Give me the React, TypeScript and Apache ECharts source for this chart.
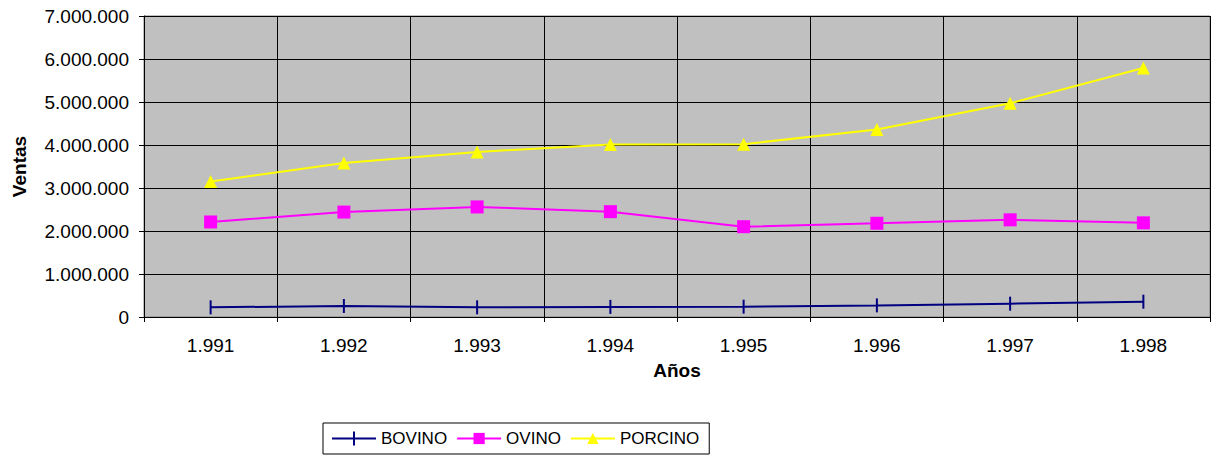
import React, { useEffect, useRef } from "react";
import * as echarts from "echarts";

const years = ["1.991", "1.992", "1.993", "1.994", "1.995", "1.996", "1.997", "1.998"];
const bovino = [225000, 256000, 225000, 235000, 240000, 270000, 310000, 356000];
const ovino = [2210000, 2440000, 2560000, 2450000, 2100000, 2180000, 2260000, 2190000];
const porcino = [3150000, 3580000, 3840000, 4010000, 4020000, 4360000, 4970000, 5790000];

const fmt = (v: number) => String(v).replace(/\B(?=(\d{3})+(?!\d))/g, ".");

export default function App() {
  const ref = useRef<HTMLDivElement>(null);
  useEffect(() => {
    const chart = echarts.init(ref.current!, null, { renderer: "svg" });
    const font = "Arial, 'Liberation Sans', sans-serif";
    chart.setOption({
      animation: false,
      backgroundColor: "#ffffff",
      textStyle: { fontFamily: font },
      grid: {
        left: 144,
        top: 16,
        right: 4,
        bottom: 138,
        backgroundColor: "#C0C0C0",
        show: true,
        borderColor: "#808080",
        borderWidth: 1,
        outerBoundsMode: "none",
        containLabel: false,
      },
      legend: {
        top: 423,
        left: 323,
        orient: "horizontal",
        itemWidth: 44,
        itemHeight: 14,
        itemGap: 9,
        padding: [7, 10, 7, 9],
        borderColor: "#000000",
        borderWidth: 1,
        textStyle: { fontSize: 17, color: "#000", fontFamily: font },
        data: [
          { name: "BOVINO", icon: "path://M0,6 L44,6 L44,8 L0,8 Z M21,0 L23,0 L23,14 L21,14 Z" },
          "OVINO",
          "PORCINO",
        ],
      },
      xAxis: {
        type: "category",
        data: years,
        boundaryGap: true,
        name: "Años",
        nameLocation: "middle",
        nameGap: 44,
        nameTextStyle: { fontSize: 19, fontWeight: "bold", color: "#000" },
        axisLine: { lineStyle: { color: "#000", width: 1 } },
        axisTick: { show: true, inside: false, length: 5, lineStyle: { color: "#000" } },
        axisLabel: { fontSize: 19, color: "#000", margin: 19 },
        splitLine: { show: true, lineStyle: { color: "#000", width: 1 } },
      },
      yAxis: {
        type: "value",
        min: 0,
        max: 7000000,
        interval: 1000000,
        name: "Ventas",
        nameLocation: "middle",
        nameGap: 115,
        nameRotate: 90,
        nameTextStyle: { fontSize: 19, fontWeight: "bold", color: "#000" },
        axisLine: { show: true, lineStyle: { color: "#000", width: 1 } },
        axisTick: { show: true, length: 5, lineStyle: { color: "#000" } },
        axisLabel: { fontSize: 19, color: "#000", margin: 15, formatter: (v: number) => fmt(v) },
        splitLine: { show: true, lineStyle: { color: "#000", width: 1 } },
      },
      series: [
        {
          name: "BOVINO",
          type: "line",
          data: bovino,
          color: "#000080",
          lineStyle: { color: "#000080", width: 2 },
          itemStyle: { color: "#000080" },
          symbol: "rect",
          symbolSize: [2, 14],
        },
        {
          name: "OVINO",
          type: "line",
          data: ovino,
          color: "#FF00FF",
          lineStyle: { color: "#FF00FF", width: 2 },
          itemStyle: { color: "#FF00FF" },
          symbol: "rect",
          symbolSize: 13,
        },
        {
          name: "PORCINO",
          type: "line",
          data: porcino,
          color: "#FFFF00",
          lineStyle: { color: "#FFFF00", width: 2 },
          itemStyle: { color: "#FFFF00" },
          symbol: "triangle",
          symbolSize: 13,
        },
      ],
    });
    return () => chart.dispose();
  }, []);
  return <div ref={ref} style={{ position: "fixed", left: 0, top: 0, width: 1214, height: 455 }} />;
}
